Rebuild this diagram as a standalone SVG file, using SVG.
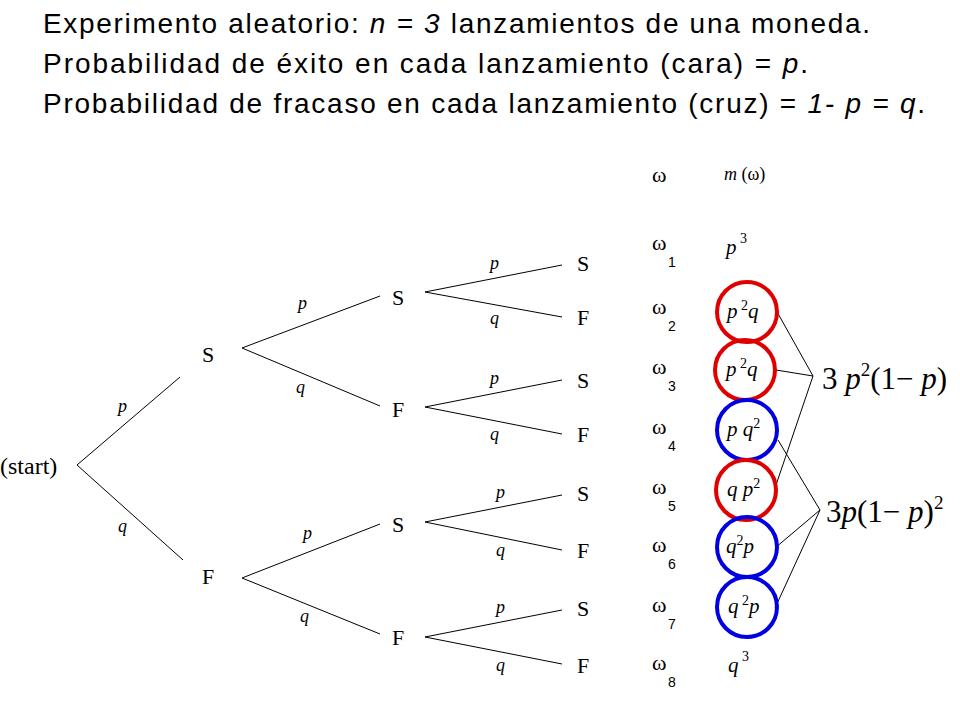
<svg xmlns="http://www.w3.org/2000/svg" width="960" height="720" viewBox="0 0 960 720">
<style>
.h{font-family:"Liberation Sans",Arial,sans-serif;font-size:28px;fill:#000}
.t{font-family:"Liberation Serif","Times New Roman",serif;font-size:22px;fill:#000}
.i{font-family:"Liberation Serif","Times New Roman",serif;font-style:italic;font-size:18px;fill:#000}
.m{font-family:"Liberation Serif","Times New Roman",serif;font-style:italic;font-size:21px;fill:#000}
.w{font-family:"Liberation Serif","Times New Roman",serif;font-size:22px;fill:#000}
.s{font-family:"Liberation Sans",Arial,sans-serif;font-size:14px;fill:#000}
.e{font-family:"Liberation Serif","Times New Roman",serif;font-size:31px;fill:#000}
line{stroke:#000;stroke-width:1}
.r{fill:none;stroke:#e00000;stroke-width:4}
.b{fill:none;stroke:#0000e0;stroke-width:4}
</style>
<rect width="960" height="720" fill="#fff"/>
<g id="title">
<text class="h" x="43" y="33" textLength="827" lengthAdjust="spacing">Experimento  aleatorio: <tspan font-style="italic">n = 3</tspan> lanzamientos  de una moneda.</text>
<text class="h" x="43" y="73" textLength="765" lengthAdjust="spacing">Probabilidad  de éxito en cada lanzamiento (cara) = <tspan font-style="italic">p</tspan>.</text>
<text class="h" x="43" y="113" textLength="882" lengthAdjust="spacing">Probabilidad  de fracaso en cada lanzamiento (cruz) = <tspan font-style="italic">1- p = q</tspan>.</text>
</g>
<g id="connectors">
<line x1="77" y1="465" x2="180" y2="377"/><line x1="77" y1="465" x2="183" y2="560"/>
<line x1="242" y1="348" x2="380" y2="296"/><line x1="242" y1="348" x2="380" y2="406"/>
<line x1="242" y1="578" x2="380" y2="524"/><line x1="242" y1="578" x2="380" y2="634"/>
<line x1="425" y1="292" x2="562" y2="265"/><line x1="425" y1="292" x2="562" y2="317"/>
<line x1="425" y1="407" x2="562" y2="380"/><line x1="425" y1="407" x2="562" y2="434"/>
<line x1="425" y1="522" x2="562" y2="495"/><line x1="425" y1="522" x2="562" y2="550"/>
<line x1="425" y1="637" x2="562" y2="610"/><line x1="425" y1="637" x2="562" y2="664"/>
<line x1="776" y1="310" x2="813" y2="376"/><line x1="776" y1="370" x2="813" y2="376"/>
<line x1="775" y1="488" x2="813" y2="376"/>
<line x1="778" y1="440" x2="820" y2="510"/><line x1="775" y1="548" x2="820" y2="510"/>
<line x1="775" y1="608" x2="820" y2="510"/>
</g>
<g id="tree-labels">
<text class="t" x="0" y="474" style="font-size:24px">(start)</text>
<text class="t" x="202" y="362">S</text><text class="t" x="202" y="584">F</text>
<text class="t" x="392" y="305">S</text><text class="t" x="392" y="417">F</text>
<text class="t" x="392" y="532">S</text><text class="t" x="392" y="645">F</text>
<text class="t" x="577" y="271">S</text><text class="t" x="577" y="325">F</text>
<text class="t" x="577" y="388">S</text><text class="t" x="577" y="442">F</text>
<text class="t" x="577" y="501">S</text><text class="t" x="577" y="558">F</text>
<text class="t" x="577" y="616">S</text><text class="t" x="577" y="673">F</text>
<text class="i" x="118" y="412">p</text><text class="i" x="118" y="532">q</text>
<text class="i" x="298" y="309">p</text><text class="i" x="296" y="393">q</text>
<text class="i" x="303" y="539">p</text><text class="i" x="300" y="622">q</text>
<text class="i" x="490" y="269">p</text><text class="i" x="490" y="324">q</text>
<text class="i" x="490" y="384">p</text><text class="i" x="490" y="440">q</text>
<text class="i" x="496" y="498">p</text><text class="i" x="496" y="556">q</text>
<text class="i" x="496" y="613">p</text><text class="i" x="496" y="671">q</text>
</g>
<g id="omega">
<text class="w" x="652" y="182">ω</text><text class="i" x="724" y="180">m <tspan font-style="normal">(ω)</tspan></text>
<text class="w" x="652" y="250">ω</text><text class="s" x="668" y="267">1</text>
<text class="w" x="652" y="314">ω</text><text class="s" x="668" y="331">2</text>
<text class="w" x="652" y="374">ω</text><text class="s" x="668" y="391">3</text>
<text class="w" x="652" y="434">ω</text><text class="s" x="668" y="451">4</text>
<text class="w" x="652" y="494">ω</text><text class="s" x="668" y="511">5</text>
<text class="w" x="652" y="552">ω</text><text class="s" x="668" y="569">6</text>
<text class="w" x="652" y="612">ω</text><text class="s" x="668" y="629">7</text>
<text class="w" x="652" y="670">ω</text><text class="s" x="668" y="687">8</text>
</g>
<g id="circles">
<circle class="r" cx="747" cy="312" r="30"/>
<circle class="r" cx="745" cy="370" r="30"/>
<circle class="b" cx="747" cy="430" r="30"/>
<circle class="r" cx="746" cy="490" r="30"/>
<circle class="b" cx="747" cy="547" r="30"/>
<circle class="b" cx="747" cy="607" r="30"/>
</g>
<g id="masses">
<text class="m" x="726" y="254">p<tspan font-style="normal" font-size="14" dy="-11"> 3</tspan></text>
<text class="m" x="727" y="318">p<tspan font-style="normal" font-size="14" dy="-8"> 2</tspan><tspan dy="8">q</tspan></text>
<text class="m" x="726" y="376">p<tspan font-style="normal" font-size="14" dy="-8"> 2</tspan><tspan dy="8">q</tspan></text>
<text class="m" x="727" y="436">p q<tspan font-style="normal" font-size="14" dy="-8">2</tspan></text>
<text class="m" x="727" y="496">q p<tspan font-style="normal" font-size="14" dy="-8">2</tspan></text>
<text class="m" x="726" y="553">q<tspan font-style="normal" font-size="14" dy="-8">2</tspan><tspan dy="8">p</tspan></text>
<text class="m" x="728" y="613">q<tspan font-style="normal" font-size="14" dy="-8"> 2</tspan><tspan dy="8">p</tspan></text>
<text class="m" x="728" y="672">q<tspan font-style="normal" font-size="14" dy="-11"> 3</tspan></text>
</g>
<g id="formulas">
<text class="e" x="822" y="389">3<tspan font-style="italic"> p</tspan><tspan font-size="19" dy="-13">2</tspan><tspan dy="13">(1− </tspan><tspan font-style="italic">p</tspan>)</text>
<text class="e" x="826" y="522">3<tspan font-style="italic">p</tspan>(1− <tspan font-style="italic">p</tspan>)<tspan font-size="19" dy="-13">2</tspan></text>
</g>
</svg>
